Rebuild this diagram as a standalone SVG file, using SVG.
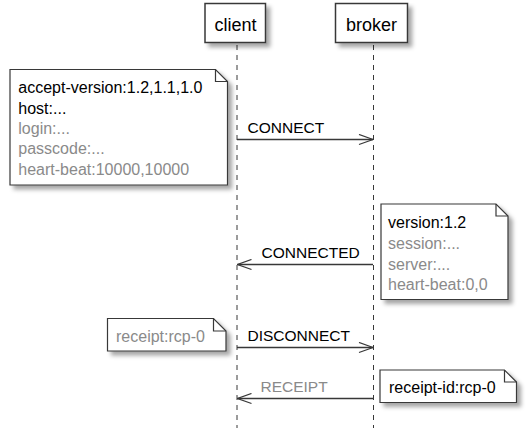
<svg xmlns="http://www.w3.org/2000/svg" width="530" height="442" viewBox="0 0 530 442">
<defs>
<filter id="sh" x="-10%" y="-10%" width="130%" height="140%">
<feGaussianBlur in="SourceAlpha" stdDeviation="2"/>
<feOffset dx="4" dy="4" result="b"/>
<feFlood flood-color="#000" flood-opacity="0.35"/>
<feComposite in2="b" operator="in" result="s"/>
<feMerge><feMergeNode in="s"/><feMergeNode in="SourceGraphic"/></feMerge>
</filter>
<marker id="ah" viewBox="0 0 16 12" refX="15" refY="6" markerWidth="16" markerHeight="12" markerUnits="userSpaceOnUse" orient="auto">
<path d="M1,1 L15,6 L1,11" fill="none" stroke="#383838" stroke-width="1.3"/>
</marker>
<style>
text{font-family:"Liberation Sans",Arial,sans-serif;}
.p{font-size:18px;fill:#000;text-anchor:middle;}
.box{fill:#fff;stroke:#383838;stroke-width:1.5;}
.note{fill:#fff;stroke:#383838;stroke-width:1.2;}
.fold{fill:none;stroke:#383838;stroke-width:1.2;}
.life{stroke:#383838;stroke-width:1;stroke-dasharray:5,5;}
.msg{stroke:#383838;stroke-width:1.3;fill:none;marker-end:url(#ah);}
.ml{font-size:15.5px;fill:#000;}
.nt{font-size:16px;fill:#000;}
.g{fill:#8a8a8a;}
</style>
</defs>
<g id="lifelines">
<line class="life" x1="237" y1="45" x2="237" y2="428"/>
<line class="life" x1="373.5" y1="45" x2="373.5" y2="428"/>
</g>
<g id="client">
<rect class="box" x="205" y="3.5" width="60.5" height="39" filter="url(#sh)"/>
<text class="p" x="235.5" y="30.5">client</text>
</g>
<g id="broker">
<rect class="box" x="335.5" y="3.5" width="72" height="39" filter="url(#sh)"/>
<text class="p" x="371.5" y="30.5">broker</text>
</g>
<g id="connectors">
<line class="msg" x1="237" y1="139.5" x2="373" y2="139.5"/>
<text class="ml" x="247.5" y="133">CONNECT</text>
<line class="msg" x1="373" y1="264.5" x2="237.5" y2="264.5"/>
<text class="ml" x="261.5" y="257.5">CONNECTED</text>
<line class="msg" x1="237" y1="347.5" x2="373" y2="347.5"/>
<text class="ml" x="247.5" y="340.5">DISCONNECT</text>
<line class="msg" x1="373" y1="398.5" x2="237.5" y2="398.5"/>
<text class="ml g" x="260.5" y="391.5">RECEIPT</text>
</g>
<g id="note-connect">
<path class="note" filter="url(#sh)" d="M10,69.5 L215.5,69.5 L227.5,81.5 L227.5,185 L10,185 Z"/>
<path class="fold" d="M215.5,69.5 L215.5,81.5 L227.5,81.5"/>
<text class="nt" x="18.3" y="93.3">accept-version:1.2,1.1,1.0</text>
<text class="nt" x="18.3" y="113.6">host:...</text>
<text class="nt g" x="18.3" y="133.9">login:...</text>
<text class="nt g" x="18.3" y="154.2">passcode:...</text>
<text class="nt g" x="18.3" y="174.5">heart-beat:10000,10000</text>
</g>
<g id="note-connected">
<path class="note" filter="url(#sh)" d="M381,204 L496,204 L508,216 L508,299.5 L381,299.5 Z"/>
<path class="fold" d="M496,204 L496,216 L508,216"/>
<text class="nt" x="388" y="228.3">version:1.2</text>
<text class="nt g" x="388" y="249">session:...</text>
<text class="nt g" x="388" y="269.6">server:...</text>
<text class="nt g" x="388" y="290">heart-beat:0,0</text>
</g>
<g id="note-disconnect">
<path class="note" filter="url(#sh)" d="M107.5,318.5 L213.5,318.5 L226,331 L226,351 L107.5,351 Z"/>
<path class="fold" d="M213.5,318.5 L213.5,331 L226,331"/>
<text class="nt g" x="116" y="342.3">receipt:rcp-0</text>
</g>
<g id="note-receipt">
<path class="note" filter="url(#sh)" d="M380,370 L504.5,370 L516.5,382 L516.5,402.5 L380,402.5 Z"/>
<path class="fold" d="M504.5,370 L504.5,382 L516.5,382"/>
<text class="nt" x="389" y="393.3">receipt-id:rcp-0</text>
</g>
</svg>
